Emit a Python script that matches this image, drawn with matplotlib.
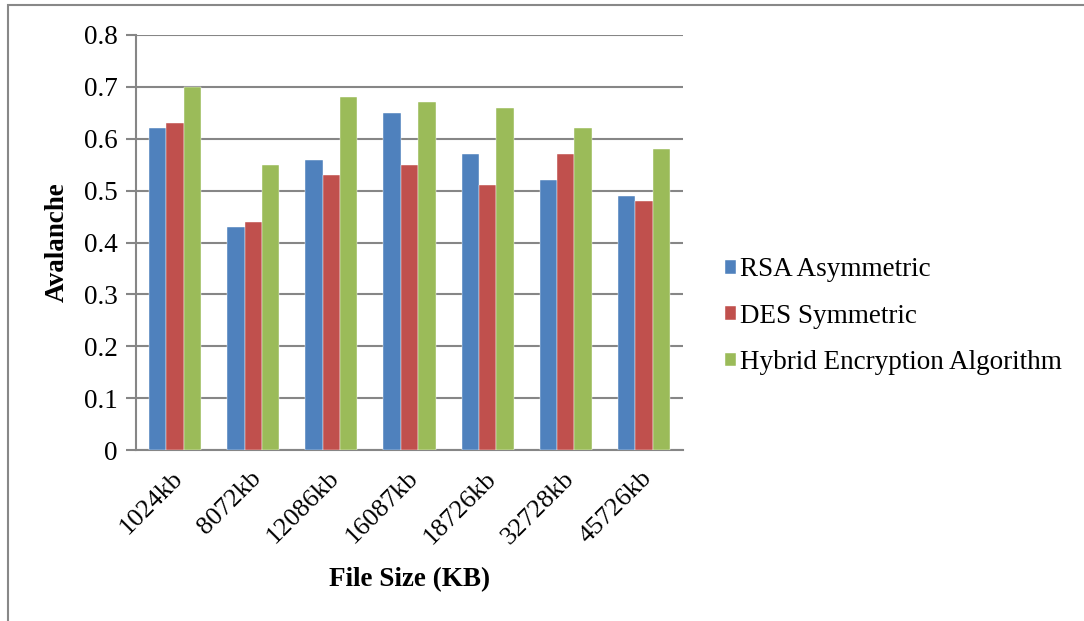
import numpy as np
import matplotlib
matplotlib.use('Agg')
from matplotlib import pyplot as plt
from matplotlib.patches import Rectangle
from matplotlib.transforms import ScaledTranslation

# данные с графика
categories = ['1024kb', '8072kb', '12086kb', '16087kb', '18726kb', '32728kb', '45726kb']
rsa = [0.62, 0.43, 0.56, 0.65, 0.57, 0.52, 0.49]
des = [0.63, 0.44, 0.53, 0.55, 0.51, 0.57, 0.48]
hybrid = [0.70, 0.55, 0.68, 0.67, 0.66, 0.62, 0.58]
series_names = ['RSA Asymmetric', 'DES Symmetric', 'Hybrid Encryption Algorithm']
colors = ['#4F81BD', '#C0504D', '#9BBB59']

plt.rcParams['font.family'] = ['Liberation Serif', 'DejaVu Serif']
FS = 19.5

fig = plt.figure(figsize=(10.84, 6.21), dpi=100)
ax = fig.add_axes([136 / 1084, 1 - 450 / 621, (683 - 136) / 1084, (450 - 35) / 621])

x = np.arange(len(categories))
w = 1 / 4.5  # ширина столбца (gap width 150%)
for i, (vals, name, c) in enumerate(zip([rsa, des, hybrid], series_names, colors)):
    ax.bar(x + (i - 1) * w, vals, width=w, color=c, label=name, zorder=3,
           edgecolor='white', linewidth=0.3)

ax.set_xlim(-0.5, len(categories) - 0.5)
ax.set_ylim(0, 0.8)
ax.set_yticks(np.arange(0, 0.81, 0.1))
ax.set_yticklabels(['0'] + ['%.1f' % v for v in np.arange(0.1, 0.81, 0.1)])
ax.yaxis.grid(True, color='#868686', linewidth=1.5, zorder=0)
ax.set_axisbelow(True)

for s in ['top', 'right']:
    ax.spines[s].set_visible(False)
for s in ['left', 'bottom']:
    ax.spines[s].set_color('#868686')
    ax.spines[s].set_linewidth(1.5)

ax.tick_params(axis='y', length=7, width=1.5, color='#868686', labelsize=FS, pad=6)
ax.tick_params(axis='x', length=0, labelsize=19, pad=8)
ax.set_xticks(x)
ax.set_xticklabels(categories, rotation=45, ha='right', rotation_mode='anchor')
shift = ScaledTranslation(-3 / 100, -6 / 100, fig.dpi_scale_trans)
for lbl in ax.get_xticklabels():
    lbl.set_transform(lbl.get_transform() + shift)

ax.set_ylabel('Avalanche', fontsize=FS, fontweight='bold')
ax.yaxis.set_label_coords(-0.121, 0.5)
ax.set_xlabel('File Size (KB)', fontsize=FS, fontweight='bold')
ax.xaxis.set_label_coords(0.5, -0.283)

ax.legend(loc='center left', bbox_to_anchor=(1.077, 0.322), frameon=False, fontsize=FS,
          handlelength=0.4, handleheight=0.4, handletextpad=0.15, labelspacing=0.79,
          borderaxespad=0, borderpad=0)

# рамка вокруг рисунка
fig.patches.append(Rectangle((8 / 1084, -0.1), 1.2, 1 - 5 / 621 + 0.1, transform=fig.transFigure,
                             fill=False, edgecolor='#888888', linewidth=1.5))

fig.savefig('out.png', dpi=100)
